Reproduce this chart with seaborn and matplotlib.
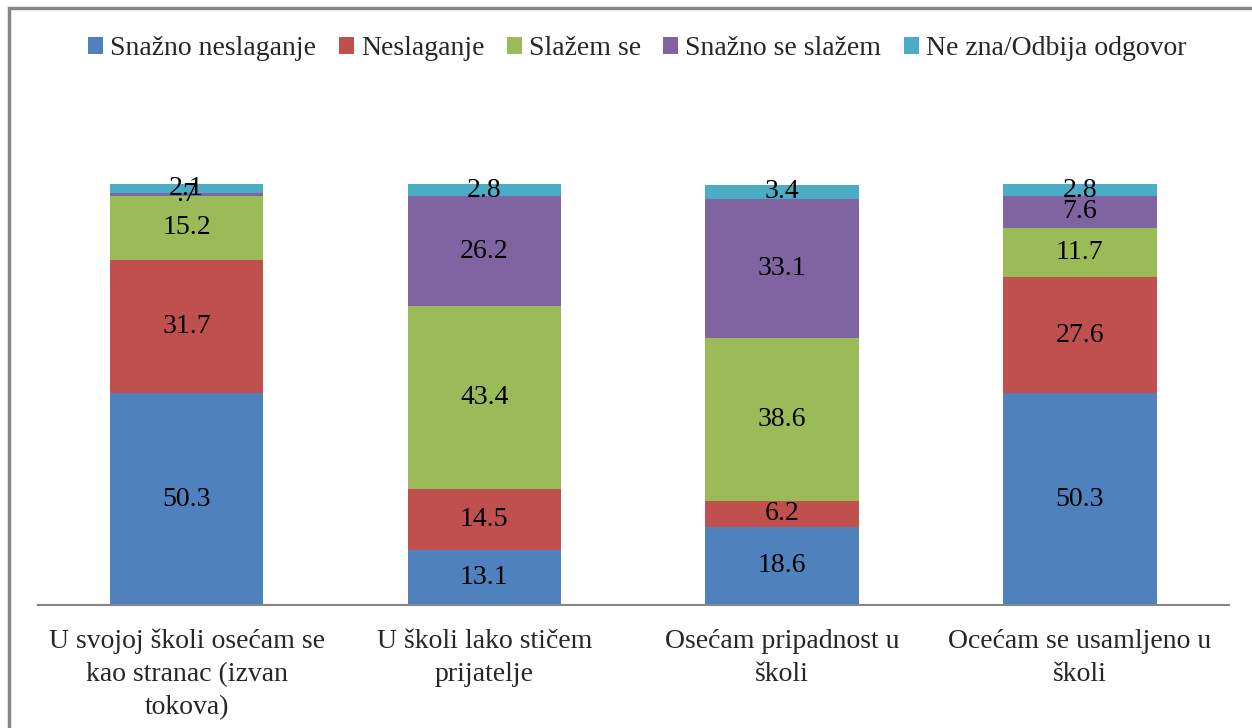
import matplotlib
matplotlib.use("Agg")
import matplotlib.pyplot as plt
from matplotlib.patches import Patch, Rectangle
import seaborn as sns
import numpy as np
import pandas as pd

# categories (x axis) and the five answer series, in stacking order
categories = [
    "U svojoj školi osećam se\nkao stranac (izvan\ntokova)",
    "U školi lako stičem\nprijatelje",
    "Osećam pripadnost u\nškoli",
    "Ocećam se usamljeno u\nškoli",
]
series_names = ["Snažno neslaganje", "Neslaganje", "Slažem se", "Snažno se slažem", "Ne zna/Odbija odgovor"]
snazno_neslaganje = [50.3, 13.1, 18.6, 50.3]
neslaganje = [31.7, 14.5, 6.2, 27.6]
slazem_se = [15.2, 43.4, 38.6, 11.7]
snazno_se_slazem = [0.7, 26.2, 33.1, 7.6]
ne_zna = [2.1, 2.8, 3.4, 2.8]
colors = ["#4F81BD", "#C0504D", "#9BBB59", "#8064A2", "#4BACC6"]

sns.set_theme(style="white")
plt.rcParams["font.family"] = ["Liberation Serif", "DejaVu Serif"]

fig = plt.figure(figsize=(12.52, 7.28), dpi=100)
ax = fig.add_axes([0.0301, 0.169, 0.9513, 0.578])

all_series = [snazno_neslaganje, neslaganje, slazem_se, snazno_se_slazem, ne_zna]
bottom = np.zeros(len(categories))
for name, vals, col in zip(series_names, all_series, colors):
    df = pd.DataFrame({"cat": categories, "val": vals})
    sns.barplot(data=df, x="cat", y="val", color=col, width=0.515, linewidth=0,
                bottom=bottom.copy(), saturation=1, ax=ax, errorbar=None)
    for i, v in enumerate(vals):
        lab = f"{v:.1f}"
        if v < 1:
            lab = lab.lstrip("0")
        ax.text(i, bottom[i] + v / 2, lab, ha="center", va="center",
                fontsize=20, color="black")
    bottom += np.array(vals)

ax.set_xlim(-0.5, 3.5)
ax.set_ylim(0, 100)
ax.set_xlabel("")
ax.set_ylabel("")
ax.set_yticks([])
ax.tick_params(axis="x", length=0, pad=17, labelsize=20)
for lbl in ax.get_xticklabels():
    lbl.set_linespacing(1.42)
for s in ["top", "right", "left"]:
    ax.spines[s].set_visible(False)
ax.spines["bottom"].set_color("#868686")
ax.spines["bottom"].set_linewidth(1.5)

handles = [Patch(facecolor=c, edgecolor="none") for c in colors]
fig.legend(handles, series_names, loc="center", bbox_to_anchor=(0.509, 0.933),
           ncol=5, frameon=False, fontsize=20, handlelength=0.55, handleheight=0.55,
           handletextpad=0.25, columnspacing=0.8)

# outer chart border
fig.patches.append(Rectangle((0.0072, -0.05), 1.1, 1.039, transform=fig.transFigure,
                             fill=False, edgecolor="#868686", linewidth=2.5, clip_on=False))

fig.savefig("out.png", dpi=100)
